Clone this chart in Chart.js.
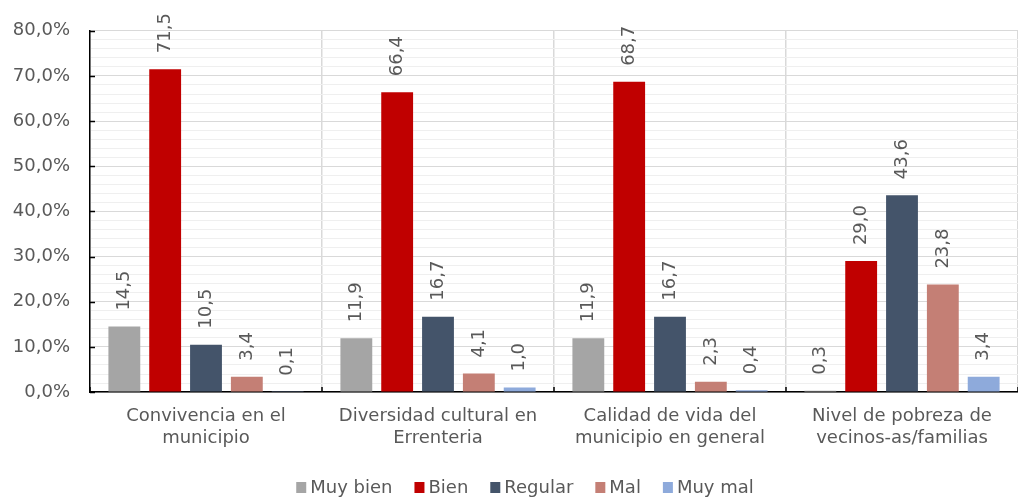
<!DOCTYPE html>
<html>
<head>
<meta charset="utf-8">
<script src="https://cdn.jsdelivr.net/npm/chart.js@4.4.1/dist/chart.umd.min.js"></script>
<style>
  html, body { margin: 0; padding: 0; background: #fff; }
  #wrap { width: 1018px; height: 502px; }
</style>
</head>
<body>
<div id="wrap"><canvas id="chart"></canvas></div>
<script>
// Datos del gráfico
const categories = [
    ['Convivencia en el', 'municipio'],
    ['Diversidad cultural en', 'Errenteria'],
    ['Calidad de vida del', 'municipio en general'],
    ['Nivel de pobreza de', 'vecinos-as/familias'],
];
const seriesNames = ['Muy bien', 'Bien', 'Regular', 'Mal', 'Muy mal'];
const muyBien = [14.5, 11.9, 11.9, 0.3];
const bien = [71.5, 66.4, 68.7, 29.0];
const regular = [10.5, 16.7, 16.7, 43.6];
const mal = [3.4, 4.1, 2.3, 23.8];
const muyMal = [0.1, 1.0, 0.4, 3.4];
const colors = ['#a5a5a5', '#c00000', '#44546a', '#c47f75', '#8eaadb'];

const fontFamily = 'Verdana, "DejaVu Sans", sans-serif';
const textColor = '#595959';

// Etiquetas de valor giradas encima de cada barra
const verticalLabels = {
    id: 'verticalLabels',
    afterDatasetsDraw(chart) {
        const ctx = chart.ctx;
        ctx.save();
        ctx.font = '18px ' + fontFamily;
        ctx.fillStyle = textColor;
        ctx.textAlign = 'left';
        ctx.textBaseline = 'middle';
        chart.data.datasets.forEach((ds, i) => {
            const meta = chart.getDatasetMeta(i);
            meta.data.forEach((bar, j) => {
                const txt = ds.data[j].toFixed(1).replace('.', ',');
                ctx.save();
                ctx.translate(bar.x, bar.y - 16);
                ctx.rotate(-Math.PI / 2);
                ctx.fillText(txt, 0, 0);
                ctx.restore();
            });
        });
        ctx.restore();
    },
};

// Marcas de graduación hacia dentro (estilo Excel)
const insideTicks = {
    id: 'insideTicks',
    afterDraw(chart) {
        const ctx = chart.ctx;
        const { x, y } = chart.scales;
        const area = chart.chartArea;
        ctx.save();
        ctx.strokeStyle = '#000';
        ctx.lineWidth = 1.5;
        ctx.beginPath();
        y.ticks.forEach(t => {
            if (t.value % 10 !== 0) return;
            const py = Math.round(y.getPixelForValue(t.value)) + 0.5;
            ctx.moveTo(area.left, py);
            ctx.lineTo(area.left + 5, py);
        });
        const n = chart.data.labels.length;
        const w = (area.right - area.left) / n;
        for (let i = 0; i <= n; i++) {
            const px = Math.round(area.left + i * w);
            ctx.moveTo(px, area.bottom);
            ctx.lineTo(px, area.bottom - 5);
        }
        ctx.stroke();
        ctx.restore();
    },
};

// Leyenda dibujada a mano para ajustar espacios
const bottomLegend = {
    id: 'bottomLegend',
    afterDraw(chart) {
        const ctx = chart.ctx;
        const box = 10, gap = 4, spacing = 22, cy = 488, cx = 525;
        ctx.save();
        ctx.font = '18px ' + fontFamily;
        ctx.textBaseline = 'middle';
        ctx.textAlign = 'left';
        const items = chart.data.datasets.map(ds => ({
            text: ds.label,
            color: ds.backgroundColor,
            w: box + gap + ctx.measureText(ds.label).width,
        }));
        const total = items.reduce((s, it) => s + it.w, 0) + spacing * (items.length - 1);
        let px = cx - total / 2;
        items.forEach(it => {
            ctx.fillStyle = it.color;
            ctx.fillRect(px, cy - box / 2 - 1, box, box + 1);
            ctx.fillStyle = textColor;
            ctx.fillText(it.text, px + box + gap, cy);
            px += it.w + spacing;
        });
        ctx.restore();
    },
};

const allSeries = [muyBien, bien, regular, mal, muyMal];

new Chart(document.getElementById('chart'), {
    type: 'bar',
    data: {
        labels: categories,
        datasets: allSeries.map((d, i) => ({
            label: seriesNames[i],
            data: d,
            backgroundColor: colors[i],
            categoryPercentage: 0.88,
            barPercentage: 0.78,
        })),
    },
    options: {
        responsive: true,
        maintainAspectRatio: false,
        animation: false,
        layout: { padding: { top: 19, right: 0, left: 0, bottom: 40 } },
        plugins: {
            legend: { display: false },
            tooltip: { enabled: false },
        },
        scales: {
            x: {
                grid: {
                    color: '#d9d9d9',
                    lineWidth: 1.5,
                    drawTicks: false,
                },
                border: { color: '#000', width: 1.5 },
                ticks: {
                    font: { family: fontFamily, size: 18, lineHeight: 1.22 },
                    color: textColor,
                    maxRotation: 0,
                    padding: 13,
                },
            },
            y: {
                min: 0,
                max: 80,
                afterFit: scale => { scale.width = 90; },
                grid: {
                    color: ctx => (ctx.tick && ctx.tick.value % 10 === 0 ? '#d9d9d9' : '#efefef'),
                    drawTicks: false,
                },
                border: { color: '#000', width: 1.5 },
                ticks: {
                    stepSize: 2,
                    autoSkip: false,
                    font: { family: fontFamily, size: 18 },
                    color: textColor,
                    padding: 20,
                    callback: v => (v % 10 === 0 ? v.toFixed(1).replace('.', ',') + '%' : ''),
                },
            },
        },
    },
    plugins: [verticalLabels, insideTicks, bottomLegend],
});
</script>
</body>
</html>
